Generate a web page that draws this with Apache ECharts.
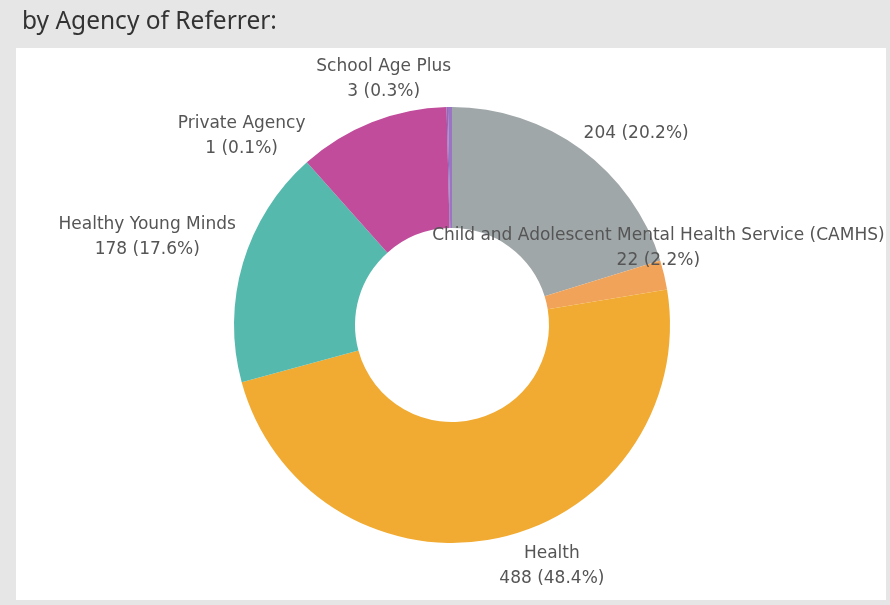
<!DOCTYPE html>
<html>
<head>
<meta charset="utf-8">
<script src="https://cdn.jsdelivr.net/npm/echarts@6/dist/echarts.min.js"></script>
<style>
  html, body { margin: 0; padding: 0; background: #e6e6e6; }
  #chart { width: 890px; height: 605px; }
</style>
</head>
<body>
<div id="chart"></div>
<script>
// referral counts by agency, clockwise from 12 o'clock
var agencies = ['', 'Child and Adolescent Mental Health Service (CAMHS)', 'Health', 'Healthy Young Minds', 'Other', 'Private Agency', 'School Age Plus'];
var referrals = [204, 22, 488, 178, 113, 1, 3];
var sliceColors = ['#a0a7a9', '#f2a35a', '#f1ab32', '#56b9ad', '#c04c9b', '#8d6cb8', '#9b74c4'];
var hideLabel = [false, false, false, false, true, false, false];

// small shifts so labels sit where the original tool put them
var labelNudge = [[32, 8], [-40, -20], [42, -1], [-62, -17], [0, 0], [-200, 59], [-61, 2]];

var chart = echarts.init(document.getElementById('chart'));

var pieData = agencies.map(function (name, i) {
  return {
    name: name,
    value: referrals[i],
    itemStyle: { color: sliceColors[i] },
    label: { show: !hideLabel[i] }
  };
});

var option = {
  backgroundColor: '#e6e6e6',
  title: {
    text: 'by Agency of Referrer:',
    left: 17,
    top: 5,
    textStyle: { fontFamily: 'Noto Sans', fontSize: 24.5, fontWeight: 'normal', color: '#333' }
  },
  graphic: [{
    type: 'rect',
    shape: { x: 16, y: 48, width: 870, height: 552 },
    style: { fill: '#ffffff' },
    z: -10
  }],
  series: [{
    type: 'pie',
    center: [452, 325],
    radius: [97, 218],
    startAngle: 90,
    clockwise: true,
    percentPrecision: 1,
    avoidLabelOverlap: false,
    label: {
      position: 'outside',
      fontFamily: 'DejaVu Sans',
      fontSize: 17,
      lineHeight: 25,
      color: '#555',
      formatter: function (p) {
        var v = p.value + ' (' + p.percent.toFixed(1) + '%)';
        return p.name ? p.name + '\n' + v : v;
      }
    },
    labelLine: { show: false, length: 30, length2: 0 },
    labelLayout: function (params) {
      var n = labelNudge[params.dataIndex];
      return { align: 'center', hideOverlap: false, dx: n[0], dy: n[1] };
    },
    emphasis: { disabled: true },
    data: pieData
  }]
};

chart.setOption(option);
</script>
</body>
</html>
